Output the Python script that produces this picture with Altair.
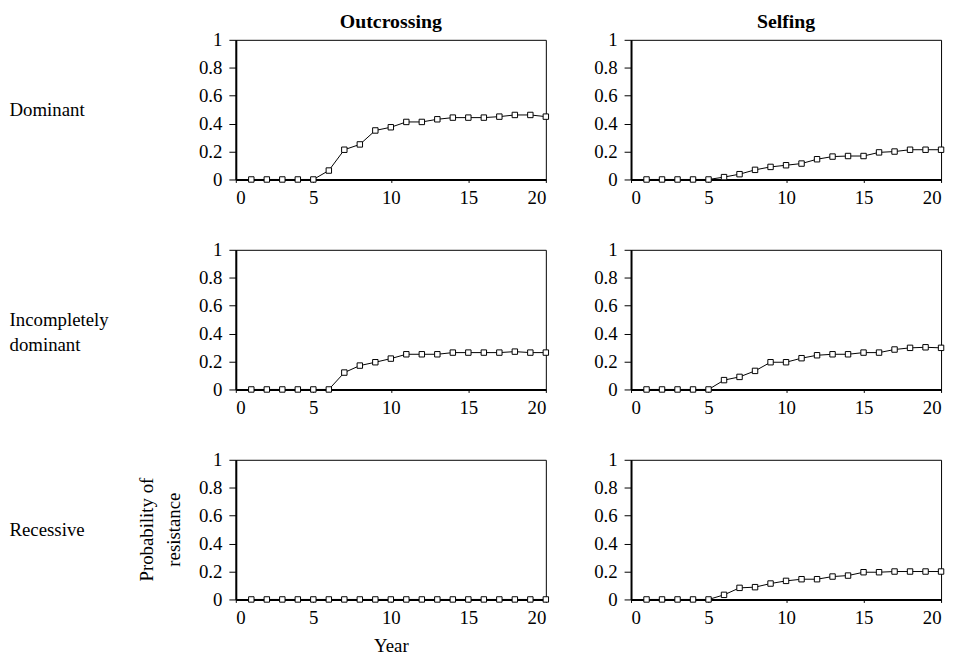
import altair as alt
import pandas as pd

years = list(range(1, 21))

dom_out = [0, 0, 0, 0, 0, 0.064, 0.213, 0.251, 0.351, 0.374, 0.412, 0.412, 0.431, 0.443, 0.443, 0.443, 0.45, 0.462, 0.462, 0.45]
dom_self = [0, 0, 0, 0, 0, 0.017, 0.038, 0.069, 0.09, 0.102, 0.114, 0.145, 0.164, 0.168, 0.168, 0.194, 0.2, 0.213, 0.213, 0.213]
inc_out = [0, 0, 0, 0, 0, 0, 0.121, 0.171, 0.195, 0.221, 0.252, 0.252, 0.252, 0.264, 0.264, 0.264, 0.264, 0.271, 0.264, 0.264]
inc_self = [0, 0, 0, 0, 0, 0.067, 0.09, 0.133, 0.195, 0.195, 0.224, 0.245, 0.252, 0.252, 0.264, 0.264, 0.286, 0.298, 0.302, 0.298]
rec_out = [0] * 20
rec_self = [0, 0, 0, 0, 0, 0.033, 0.083, 0.088, 0.114, 0.133, 0.145, 0.145, 0.164, 0.171, 0.195, 0.195, 0.2, 0.2, 0.2, 0.2]

row_labels = ["Dominant", ["Incompletely", "dominant"], "Recessive"]
col_titles = ["Outcrossing", "Selfing"]
y_title_lines = ["Probability of", "resistance"]
x_ticks = [0, 5, 10, 15, 20]
y_ticks = [0, 0.2, 0.4, 0.6, 0.8, 1]

FONT = "Liberation Serif"
W, H = 313, 141

series = [[dom_out, dom_self], [inc_out, inc_self], [rec_out, rec_self]]


def panel(r, c):
    df = pd.DataFrame({"year": years, "p": series[r][c]})
    last_row = r == 2
    x_axis = alt.Axis(values=x_ticks, grid=False, tickSize=3, labelPadding=6,
                      title="Year" if (last_row and c == 0) else None,
                      titleFont=FONT, titleFontSize=19, titleFontWeight="normal",
                      titlePadding=10)
    if c == 0:
        y_axis = alt.Axis(values=y_ticks, format="~g", grid=False, tickSize=7, labelPadding=7,
                          title=row_labels[r], titleAngle=0, titleAlign="left",
                          titleBaseline="middle", titleX=-229, titleY=H / 2,
                          titleFont=FONT, titleFontSize=19, titleFontWeight="normal",
                          titleLineHeight=25)
    else:
        y_axis = alt.Axis(values=y_ticks, format="~g", grid=False, tickSize=7, labelPadding=7,
                          title=None)
    base = alt.Chart(df).encode(
        x=alt.X("year:Q", scale=alt.Scale(domain=[0, 20], nice=False), axis=x_axis),
        y=alt.Y("p:Q", scale=alt.Scale(domain=[0, 1], nice=False), axis=y_axis),
    )
    line = base.mark_line(color="black", strokeWidth=1)
    pts = base.mark_point(shape="square", filled=True, fill="white", stroke="black",
                          strokeWidth=1, size=30, opacity=1)
    layers = [line, pts]
    if last_row and c == 0:
        for txt, xo in zip(y_title_lines, [-90, -62]):
            ylab = alt.Chart(pd.DataFrame({"t": [txt]})).mark_text(
                angle=270, align="center", baseline="middle",
                font=FONT, fontSize=19, color="black"
            ).encode(x=alt.value(xo), y=alt.value(H / 2), text="t:N")
            layers.append(ylab)
    ch = alt.layer(*layers).properties(width=W, height=H)
    if r == 0:
        ch = ch.properties(title=alt.TitleParams(col_titles[c], font=FONT, fontSize=20,
                                                 fontWeight="bold", color="black",
                                                 anchor="middle", offset=-1))
    return ch


panels = [panel(r, c) for r in range(3) for c in range(2)]

chart = alt.concat(*panels, columns=2, spacing={"row": 32, "column": 41}).properties(
    padding={"left": 0, "top": 0, "right": 0, "bottom": 0},
    align="each",
).configure(
    font=FONT, background="white"
).configure_view(
    stroke="black", strokeWidth=1
).configure_axis(
    domainColor="black", domainWidth=2, tickColor="black", tickWidth=1,
    labelFont=FONT, labelFontSize=19, labelColor="black", titleColor="black"
)

chart.save("out.html", embed_options={"renderer": "svg", "actions": False})
